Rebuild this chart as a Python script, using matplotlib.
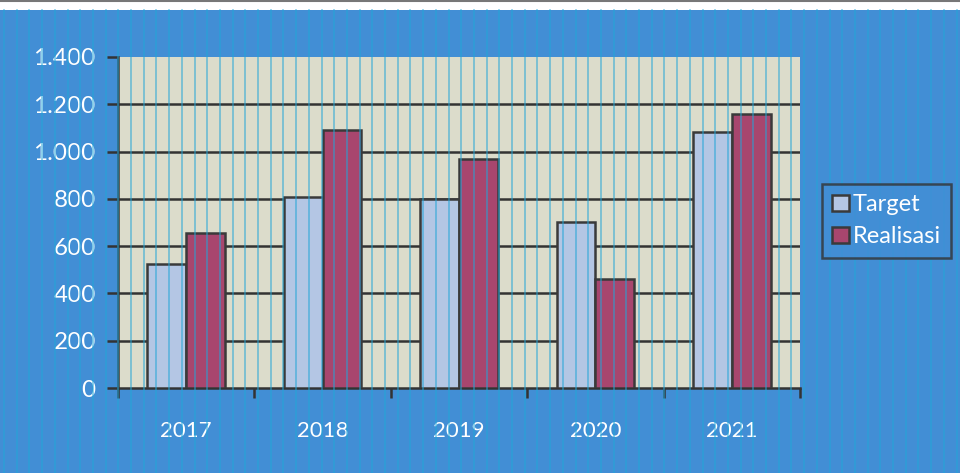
import matplotlib.pyplot as plt
import numpy as np
from matplotlib.lines import Line2D
from matplotlib.patches import Rectangle

years = ['2017', '2018', '2019', '2020', '2021']
target = [524, 808, 800, 702, 1083]
realisasi = [656, 1091, 969, 461, 1159]
yticks = [0, 200, 400, 600, 800, 1000, 1200, 1400]
ytick_labels = ['0', '200', '400', '600', '800', '1.000', '1.200', '1.400']

plt.rcParams['font.family'] = ['Lato', 'DejaVu Sans']

bg_blue = '#428ed5'
fig = plt.figure(figsize=(9.6, 4.73), dpi=100)
fig.patch.set_facecolor('white')

# blue chart area below the white strip at the top
fig.add_artist(Rectangle((0, 0), 1, 1 - 10 / 473, transform=fig.transFigure,
                         facecolor=bg_blue, edgecolor='none', zorder=0))
fig.add_artist(Line2D([0, 1], [1 - 1 / 473] * 2, transform=fig.transFigure,
                      color='#777777', lw=1.5))

ax = fig.add_axes([118 / 960, 85 / 473, 682 / 960, 331 / 473])
ax.set_facecolor('#dcdccb')

x = np.arange(len(years))
w = 0.285
ax.bar(x - w / 2, target, w, color='#b4c6e4', edgecolor='#3a3a3a', linewidth=1.8,
       label='Target', zorder=3)
ax.bar(x + w / 2, realisasi, w, color='#a8466e', edgecolor='#3a3a3a', linewidth=1.8,
       label='Realisasi', zorder=3)

ax.set_xlim(-0.5, len(years) - 0.5)
ax.set_ylim(0, 1400)
ax.set_yticks(yticks)
ax.set_yticklabels(ytick_labels)
for yv in yticks[1:-1]:
    ax.axhline(yv, color='#333333', lw=1.8, zorder=1)

ax.set_xticks(x)
ax.set_xticklabels(years)
ax.set_xticks(np.arange(len(years) + 1) - 0.5, minor=True)
ax.tick_params(axis='x', which='major', length=0, pad=24, labelsize=16, labelcolor='white')
ax.tick_params(axis='x', which='minor', length=7, width=1.8, color='#333333', direction='out')
ax.tick_params(axis='y', length=8, width=1.8, color='#333333', direction='out',
               pad=8, labelsize=17.5, labelcolor='white')

for side in ['top', 'right']:
    ax.spines[side].set_visible(False)
for side in ['left', 'bottom']:
    ax.spines[side].set_color('#333333')
    ax.spines[side].set_linewidth(1.8)

leg = fig.legend(loc='upper left', bbox_to_anchor=(810 / 960, 1 - 172 / 473),
                 frameon=True, fontsize=17, handlelength=0.7, handleheight=0.7,
                 handletextpad=0.15, borderpad=0.45, labelspacing=0.45)
leg.get_frame().set_facecolor(bg_blue)
leg.get_frame().set_edgecolor('#333333')
leg.get_frame().set_linewidth(1.8)
leg.get_frame().set_boxstyle('square', pad=0)
for t in leg.get_texts():
    t.set_color('white')

# vertical scan stripes across the page
for px in np.arange(4, 960, 12.7):
    fig.add_artist(Line2D([px / 960] * 2, [0, 1 - 10 / 473], transform=fig.transFigure,
                          color='#22a6d8', lw=1.2, alpha=0.6, zorder=5))

fig.savefig('out.png', dpi=100, facecolor=fig.get_facecolor())
